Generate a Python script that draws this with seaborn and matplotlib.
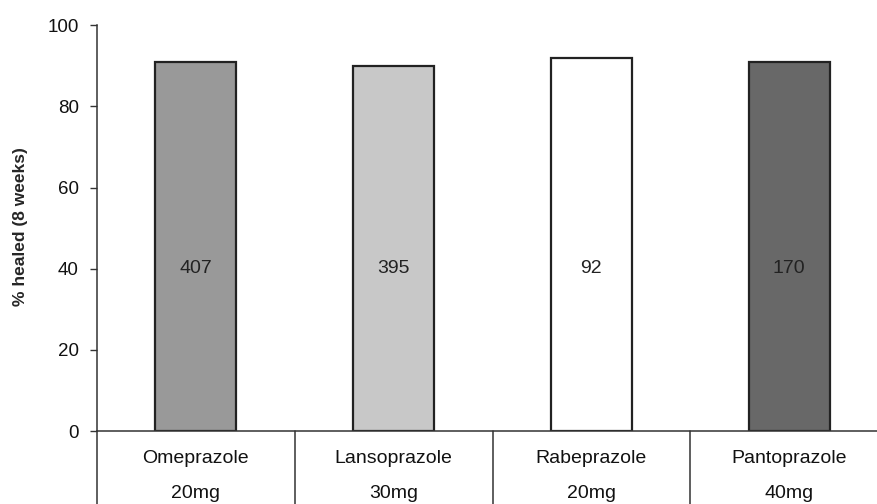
import matplotlib
matplotlib.use('Agg')

import matplotlib.pyplot as plt
import matplotlib.transforms as mtransforms
import seaborn as sns

sns.set_style("white")
plt.rcParams['font.family'] = ['Liberation Sans', 'DejaVu Sans']

# 데이터
drugs = ["Omeprazole", "Lansoprazole", "Rabeprazole", "Pantoprazole"]
doses = ["20mg", "30mg", "20mg", "40mg"]
healed = [91, 90, 92, 91]
n_patients = [407, 395, 92, 170]
colors = ["#999999", "#c8c8c8", "#ffffff", "#686868"]

fig = plt.figure(figsize=(8.77, 5.04), dpi=100)
ax = fig.add_axes([0.1106, 0.1448, 0.8894, 0.8052])

sns.barplot(x=drugs, y=healed, hue=drugs, palette=colors, width=0.41,
            edgecolor="#222222", linewidth=1.6, saturation=1, legend=False, ax=ax)

ax.set_ylim(0, 100)
ax.set_xlim(-0.5, 3.444)
ax.set_yticks([0, 20, 40, 60, 80, 100])
ax.tick_params(axis='y', left=True, direction='out', length=5, width=1, colors='#333333',
               labelsize=13.5, labelcolor='#111111', pad=8)
ax.set_xticks([])
ax.set_xlabel("")
ax.set_ylabel("% healed (8 weeks)", fontsize=12.5, fontweight='bold', labelpad=14)
ax.yaxis.set_label_coords(-0.088, 0.505)

for s in ["top", "right"]:
    ax.spines[s].set_visible(False)
for s in ["left", "bottom"]:
    ax.spines[s].set_color("#333333")
    ax.spines[s].set_linewidth(1.1)

# 막대 내부 환자 수
for i, n in enumerate(n_patients):
    ax.text(i, 40, str(n), ha='center', va='center', fontsize=14, color='#222222')

# 아래쪽 표 형태 라벨
trans = mtransforms.blended_transform_factory(ax.transData, ax.transAxes)
for i in range(len(drugs) + 1):
    ax.plot([i - 0.5, i - 0.5], [0, -0.19], transform=trans, color='#333333',
            lw=1.1, clip_on=False)
for i, (d, dose) in enumerate(zip(drugs, doses)):
    ax.text(i, -0.067, d, transform=trans, ha='center', va='center', fontsize=14,
            color='#111111')
    ax.text(i, -0.155, dose, transform=trans, ha='center', va='center', fontsize=14,
            color='#111111')

plt.savefig("out.png", dpi=100)
plt.close()
